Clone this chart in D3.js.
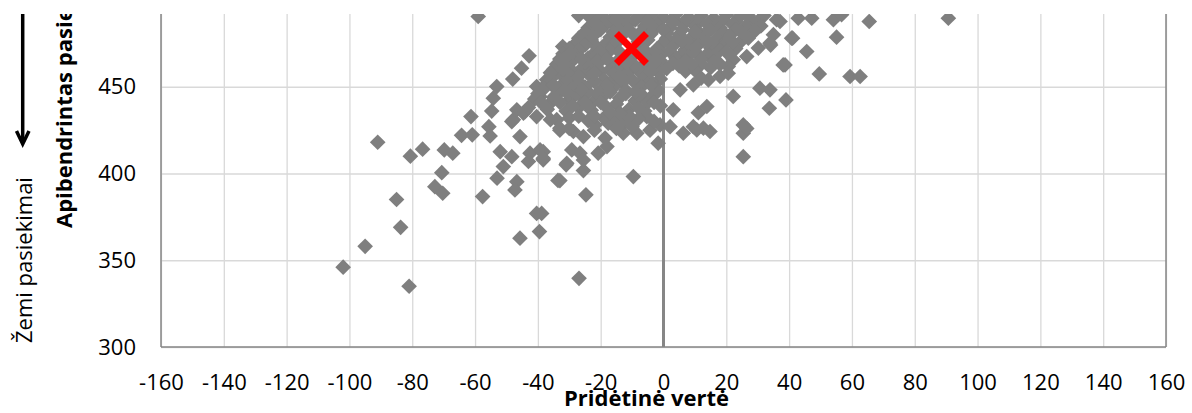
<!DOCTYPE html>
<html><head><meta charset="utf-8">
<script src="https://cdn.jsdelivr.net/npm/d3@7"></script>
<style>html,body{margin:0;padding:0;background:#fff;} svg{display:block;font-family:"Open Sans",sans-serif;}</style>
</head><body><svg id="c" width="1192" height="413"></svg>
<script>
// ---------- data ----------
const xTicks = [-160,-140,-120,-100,-80,-60,-40,-20,0,20,40,60,80,100,120,140,160];
const yTicks = [300,350,400,450,500];
const xTitle = "Pridėtinė vertė";
const yTitle = "Apibendrintas pasiekimai";
const lowLabel = "Žemi pasiekimai";
const highlight = [[-10.2,472.1]];
// [value added, achievement]
const schools = [
 [-102,346],[-95,358],[-91,418],[-85,385],[-83.7,369],[-80.6,410],[-81,335],[-76.7,414],[-72.8,392.4],[-70.3,388.6],
 [-70.6,400.5],[-69.8,413.6],[-67.1,411.7],[-64.3,422],[-61.3,432.8],[-60.9,422.3],[-59,490.5],[-57.6,386.7],[-54.7,436],[-55.6,427],
 [-55.2,421.6],[-54.2,443.4],[-53.1,450.1],[-52,412.6],[-48.3,409.7],[-51,404],[-53,397.3],[-46.7,395.3],[-47.3,390.5],[-45.7,421.3],
 [-47.8,431],[-44.6,434.8],[-40.4,432.8],[-42.5,411.7],[-39.3,413.6],[-38.3,407.9],[-43,406.9],[-40.4,377],[-45.7,362.7],[-39.5,366.5],
 [-26.9,339.6],[-33.6,396],[-34,431],[-33,425],[-27,491],[-42.8,467.8],[-45.2,460.7],[-48,454.4],[-32.1,473.2],[-46.7,436.7],
 [-44.1,435.7],[-48.3,429.9],[-40.4,450.1],[-37.2,454],[-34,448.2],[-39.3,444.3],[-36.1,440.5],[-31.9,465.5],[-38.8,377],
 [-9.6,398.2],[-1.7,417.5],[-20.8,411.7],[-18,415.5],[-18.6,420.4],[-29.2,413.6],[-26.6,411.7],[-38.3,412.6],[-38.3,408.8],[-25.5,421.3],
 [-28.7,424.2],[-33,426.1],[-12.8,423.2],[-8.5,423.2],[-4.3,425],[-1.1,428],[-21.8,428],[-17.6,429],[-25.5,401.7],[-31,405],
 [-24.7,387.7],[-33,395.9],[-30.8,405.9],[-25.5,407.8],[-5.3,432.8],[-9.6,430.6],[-12.8,428.6],[-16,432.4],[3.1,436.7],[2.1,427],
 [6.3,423.2],
 [37.1,487.6],[42.9,489.5],[47.2,489.5],[54.1,488.6],[56.7,491.5],[65.5,487.6],[90.7,489.5],[41.1,478],[55.1,478.6],[45.6,470.3],
 [38.7,462.6],[49.6,457.4],[59.4,455.9],[62.6,455.9],[39,442.4],[34.1,474],[30.2,472.3],[26.5,467.4],[22.2,465.5],[20.6,461.6],
 [30.7,449.2],[33.9,448.2],[22.2,444.4],[33.7,437.6],[25.4,428],[25.4,423.2],[26.5,426],[25.4,409.7],[11.1,435],[13.8,438.6],
 [9.5,427],[12.7,426.1],[14.8,424.2],[10.6,425.1],[5.3,448.2],[9.5,451.1],[14.3,454],[18,456],[20.6,457.8],[36,488.6],
 [35,480],[40.8,478],[33.9,475.1],[38.1,462.6],
 [-26.6,477],[-22.4,480.9],[-18.1,486.6],[-29.8,459.7],[-26.6,452],[-20.2,489.5],
 [-20,491],[-16,490],[-12,492],[-8,490.5],[-4,491.5],[0,490],[4,492],[8,490],[12,491],[16,489.5],[20,491.5],[24,490],[28,488.5],[32,491],
 [-18,488],[-13,487.5],[-9,488.5],[-5,487],[-1,488.5],[3,489],[7,487.5],[11,488],[15,487],[19,488.5],[23,487.5],[27,491],[30,487.5],
 [-24,484],[-19,486],[-15,484.5],[-11,486.5],[-6,485],[-2,486],[2,484],[6,486.5],[10,485],[14,486],[18,484],[22,486],[26,484.5],[31,485],
 [-25,481.5],[-20,483],[-16,481.5],[-11,483],[-7,482],[-3,483],[1,481],[6,483],[11,482],[15,483],[19,481.5],[23,483],[29,482],
 [-27,478],[-22,480],[-17,478.5],[-13,480],[-9,479],[-4,480.5],[1,478],[5,480],[9,478.5],[13,480],[17,478],[21,479.5],[25,481],
 [-28,475],[-23,477],[-18,475.5],[-14,477],[-5,477],[0,475.5],[4,477],[8,475],[12,477.5],[16,475],[20,476.5],[24,475],
 [-30,472],[-25,474],[-21,472.5],[-16,474],[-7,474.5],[-2,472],[3,473.5],[7,471.5],[11,474],[15,472.5],[19,473.5],[23,472],
 [-32,469],[-27,471],[-22,469.5],[-17,471],[-8,470.5],[-3,469],[2,470.5],[6,469],[10,470.5],[14,469],[18,471],
 [-33,466],[-28,468],[-24,466.5],[-19,468],[-14,466],[-10,467.5],[-5,466],[-1,468],[4,466.5],[8,468],[12,466],[16,467.5],[20,470],
 [-34,463],[-29,465],[-24,463.5],[-20,465],[-15,463],[-11,464.5],[-6,463],[-1,465],[3,463.5],[7,465],[12,463],[16,464.5],
 [-35,460],[-31,462],[-26,460.5],[-22,462],[-17,460],[-13,461.5],[-8,460],[-3,462],[1,460.5],[5,462],[10,459.5],[15,461],[18,463],
 [-34,458],[-29,459],[-24,457.5],[-20,459],[-16,457.5],[-11,459],[-7,457.5],[-2,459],[7,459],
 [-36,455],[-32,456],[-28,454.5],[-23,456],[-19,454],[-15,455.5],[-10,454],[-6,456],[-1,454.5],[12,455],
 [-37,452],[-31,453],[-27,451.5],[-22,453],[-17,452],[-13,452.5],[-8,451.5],[-4,453],
 [-38,449],[-33,450],[-29,448.5],[-25,450],[-20,448],[-16,449.5],[-12,448],[-7,450],[-2,448.5],
 [-40,446],[-33,447],[-28,445.5],[-24,447],[-19,445],[-12,446],[-7,445.5],[-2,447],
 [-41,443],[-35,444],[-30,442.5],[-26,444],[-22,442],[-14,443.5],[-9,442],[-4,444],
 [-43,438],[-37,437],[-31,436],[-27,438],[-23,436.5],[-18,438],[-11,437],[-6,436],[-1,439],
 [-36,431],[-30,432],[-24,430.5],[-19,432],[-13,430],[-8,431.5],[-3,430],
 [-30,426],[-22,425],[-15,426],[-10,427],
 [-5,488],[3,487],[10,482],[-15,489],[0,483],[-8,476],[6,476],[-20,470],[-3,464],[9,463],
 [-12,457],[-25,464],[-30,457],[14,476],[22,476],[27,478],[-18,451],[-4,451],[-28,446],
 [-35,451],[-31,447],[-26,448],[-21,446],[-17,447],[-9,447],[-5,441],[-29,439],[-25,441],[-20,441],
 [-15,440],[-33,441],[-39,441],[-22,433],[-27,433],[-11,433],[-14,435],[-17,435],[-8,438],[-3,441],
 [-30,469],[-26,466],[-21,465],[-36,458],[-32,460],[-27,456],[-22,458],[-14,456],[-9,462],[-4,459],
 [-12,464],[-18,466],[-14,470],[-6,471],[-24,491],[-22,487]
];

// ---------- layout ----------
const svg = d3.select("#c");
const x = d3.scaleLinear().domain([-160,160]).range([161,1166]);
const y = d3.scaleLinear().domain([300,500]).range([347,0]);

svg.append("defs").append("clipPath").attr("id","crop")
  .append("rect").attr("x",0).attr("y",14).attr("width",1192).attr("height",399);
const root = svg.append("g").attr("clip-path","url(#crop)");

// gridlines
root.append("g").attr("transform","translate(0,347)")
  .call(d3.axisBottom(x).tickValues(xTicks).tickSize(-(y(300)-y(500))).tickFormat(""))
  .call(g=>{g.select(".domain").remove(); g.selectAll("line").attr("stroke","#d9d9d9").attr("stroke-width",1.3);});
root.append("g").attr("transform","translate(161,0)")
  .call(d3.axisLeft(y).tickValues(yTicks).tickSize(-(x(160)-x(-160))).tickFormat(""))
  .call(g=>{g.select(".domain").remove(); g.selectAll("line").attr("stroke","#d9d9d9").attr("stroke-width",1.3);});

// axes frame
const axisCol = "#868686";
root.append("line").attr("x1",x(-160)).attr("x2",x(-160)).attr("y1",y(300)).attr("y2",y(500)).attr("stroke",axisCol).attr("stroke-width",1.5);
root.append("line").attr("x1",x(160)).attr("x2",x(160)).attr("y1",y(300)).attr("y2",y(500)).attr("stroke",axisCol).attr("stroke-width",1.5);
root.append("line").attr("x1",x(-160)).attr("x2",x(160)).attr("y1",y(300)).attr("y2",y(300)).attr("stroke",axisCol).attr("stroke-width",1.5);
// zero line
root.append("line").attr("x1",x(0)).attr("x2",x(0)).attr("y1",y(300)).attr("y2",y(500)).attr("stroke",axisCol).attr("stroke-width",3);

// points
const diamond = d3.symbol().type(d3.symbolSquare).size(123);
root.append("g").selectAll("path").data(schools).join("path")
  .attr("d",diamond)
  .attr("transform",d=>`translate(${x(d[0])},${y(d[1])}) rotate(45)`)
  .attr("fill","#7f7f7f");

// highlight X
const hx = root.append("g");
highlight.forEach(d=>{
  const cx=x(d[0]), cy=y(d[1]), r=15;
  hx.append("path").attr("d",`M${cx-r},${cy-r}L${cx+r},${cy+r}M${cx-r},${cy+r}L${cx+r},${cy-r}`)
    .attr("stroke","#ff0000").attr("stroke-width",7).attr("fill","none");
});

// tick labels
const fmt = d => String(d);
root.append("g").attr("transform","translate(0,347)")
  .call(d3.axisBottom(x).tickValues(xTicks).tickSize(0).tickPadding(27).tickFormat(fmt))
  .call(g=>{g.select(".domain").remove(); g.selectAll("text").attr("fill","#000").style("font-size","22px").style("font-family","'Open Sans',sans-serif");});
root.append("g").attr("transform","translate(161,0)")
  .call(d3.axisLeft(y).tickValues(yTicks).tickSize(0).tickPadding(25).tickFormat(fmt))
  .call(g=>{g.select(".domain").remove(); g.selectAll("text").attr("fill","#000").style("font-size","22px").style("font-family","'Open Sans',sans-serif");});

// titles
root.append("text").attr("x",646.5).attr("y",406).attr("text-anchor","middle")
  .style("font-size","22px").style("font-weight","bold").text(xTitle);
root.append("text").attr("transform","translate(72,228) rotate(-90)").attr("text-anchor","start")
  .style("font-size","22px").style("font-weight","bold").text(yTitle);
root.append("text").attr("transform","translate(32,343) rotate(-90)").attr("text-anchor","start")
  .style("font-size","22px").text(lowLabel);

// arrow
root.append("line").attr("x1",22.7).attr("x2",22.7).attr("y1",0).attr("y2",143).attr("stroke","#000").attr("stroke-width",3.5);
root.append("path").attr("d","M16.5,131L22.7,144L29,131").attr("fill","none").attr("stroke","#000").attr("stroke-width",3.5).attr("stroke-linejoin","miter");
</script></body></html>
